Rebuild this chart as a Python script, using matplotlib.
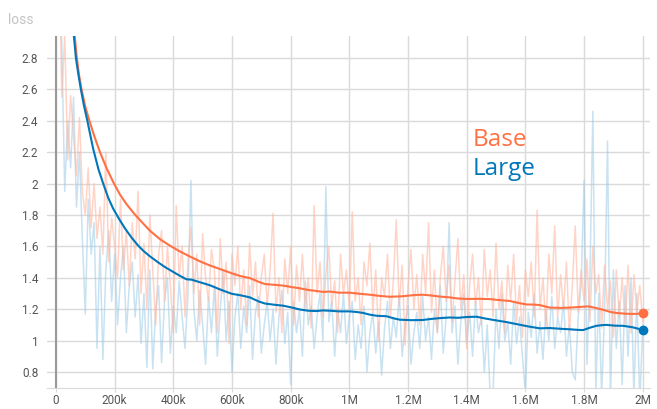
import numpy as np
import matplotlib
matplotlib.use("Agg")
import matplotlib.pyplot as plt

# training steps of the raw loss points, every 10k
raw_steps = np.arange(10, 2001, 10) * 1000

base_raw = [
    3.60, 2.55, 2.95, 2.15, 2.56, 2.30, 2.05, 2.42, 1.95, 1.80,
    2.10, 1.72, 2.00, 1.65, 1.85, 1.55, 2.20, 1.50, 1.78, 1.60,
    1.40, 1.90, 1.45, 1.70, 1.35, 1.75, 1.52, 1.95, 1.30, 1.62,
    1.20, 1.80, 1.45, 1.10, 1.55, 1.70, 1.25, 1.60, 1.35, 1.05,
    1.86, 1.40, 1.60, 1.15, 1.50, 1.72, 1.30, 1.55, 1.10, 1.68,
    1.40, 1.25, 1.58, 1.45, 1.05, 1.65, 1.30, 1.50, 0.98, 1.55,
    1.35, 1.60, 1.20, 1.45, 1.10, 1.62, 1.28, 1.50, 1.15, 1.40,
    1.55, 1.22, 1.45, 1.81, 1.18, 1.40, 1.05, 1.52, 1.30, 1.60,
    1.10, 1.48, 1.25, 1.55, 1.20, 1.40, 1.08, 1.86, 1.30, 1.50,
    1.15, 1.42, 1.60, 1.22, 1.38, 1.05, 1.55, 1.30, 1.45, 1.20,
    1.82, 1.25, 1.40, 1.10, 1.50, 1.35, 1.62, 1.18, 1.45, 1.00,
    1.40, 1.28, 1.55, 1.15, 1.38, 1.77, 1.22, 1.48, 0.97, 1.35,
    1.58, 1.20, 1.42, 1.10, 1.55, 1.30, 1.75, 1.18, 1.45, 1.05,
    1.40, 1.60, 1.25, 1.48, 1.12, 1.38, 1.65, 1.20, 1.42, 0.95,
    1.35, 1.55, 1.22, 1.40, 1.10, 1.58, 1.28, 1.45, 1.15, 1.62,
    1.20, 1.38, 1.05, 1.48, 1.25, 1.55, 1.12, 1.35, 1.02, 1.45,
    1.28, 1.50, 1.15, 1.83, 1.20, 1.40, 1.08, 1.55, 1.30, 1.73,
    1.15, 1.42, 1.20, 1.50, 1.05, 1.35, 1.73, 1.18, 1.45, 1.25,
    1.52, 1.12, 1.60, 1.30, 1.42, 1.08, 1.48, 1.20, 1.38, 1.02,
    1.45, 1.15, 1.40, 1.10, 1.48, 1.05, 1.42, 1.18, 1.35, 1.12,
]

large_raw = [
    3.50, 2.87, 1.95, 2.40, 2.10, 2.55, 1.85, 2.20, 1.65, 1.17,
    1.90, 1.55, 1.75, 0.95, 1.60, 0.88, 1.45, 1.70, 1.25, 1.55,
    1.10, 1.40, 1.60, 1.05, 1.35, 1.50, 1.15, 1.42, 0.98, 1.30,
    0.83, 1.45, 0.82, 1.20, 1.35, 0.86, 1.25, 1.40, 0.92, 1.22,
    1.05, 1.38, 1.15, 0.95, 1.30, 2.02, 1.20, 1.00, 1.32, 1.10,
    0.85, 1.28, 1.05, 1.35, 0.90, 1.20, 1.45, 1.00, 1.25, 0.80,
    1.15, 1.30, 0.95, 1.22, 1.05, 1.35, 0.88, 1.18, 1.28, 0.92,
    1.10, 1.25, 1.00, 1.20, 0.85, 1.15, 1.32, 0.98, 1.18, 0.72,
    1.25, 1.05, 1.20, 0.90, 1.38, 1.10, 1.22, 0.95, 1.15, 1.30,
    1.00, 1.98, 1.12, 1.25, 0.90, 1.20, 1.05, 1.30, 0.98, 1.15,
    1.25, 0.88, 1.10, 0.95, 1.22, 0.80, 1.05, 1.18, 0.92, 1.12,
    0.78, 1.08, 1.25, 0.95, 1.15, 1.02, 1.30, 0.90, 1.10, 1.22,
    0.85, 1.05, 1.18, 0.95, 1.28, 1.00, 1.15, 0.88, 1.20, 1.05,
    1.35, 0.92, 1.15, 1.75, 1.05, 1.22, 0.85, 1.12, 1.30, 0.98,
    1.18, 0.90, 1.25, 1.05, 1.15, 0.80, 1.10, 0.65, 0.68, 1.20,
    0.95, 1.30, 1.00, 1.12, 0.85, 1.25, 0.98, 1.15, 0.90, 0.66,
    1.18, 1.02, 1.30, 0.92, 1.12, 0.88, 1.20, 1.00, 1.28, 0.95,
    1.15, 1.05, 1.25, 0.90, 1.10, 0.80, 0.75, 1.15, 1.35, 2.02,
    0.85, 1.40, 2.46, 0.68, 1.30, 0.65, 1.20, 2.27, 0.62, 1.45,
    0.95, 1.25, 0.72, 1.35, 0.90, 1.40, 0.65, 1.30, 0.60, 1.10,
]

# smoothed curves (steps in k, loss)
base_smooth_x = [20, 40, 55, 64, 70, 78, 87, 100, 114, 131, 150, 172, 195, 218, 242,
                 268, 295, 320, 355, 388, 420, 457, 490, 525, 560, 600, 630, 661, 690,
                 712, 745, 775, 805, 831, 860, 888, 910, 934, 965, 1000, 1035, 1070,
                 1105, 1138, 1180, 1223, 1250, 1274, 1310, 1342, 1370, 1401, 1440,
                 1479, 1510, 1547, 1575, 1604, 1630, 1649, 1683, 1720, 1751, 1785,
                 1814, 1840, 1865, 1890, 1910, 1935, 1956, 1980, 2000]
base_smooth = [4.40, 3.50, 3.10, 2.94, 2.82, 2.70, 2.60, 2.49, 2.40, 2.30, 2.20, 2.10,
               2.01, 1.93, 1.865, 1.805, 1.75, 1.70, 1.645, 1.605, 1.57, 1.535, 1.505,
               1.478, 1.455, 1.428, 1.41, 1.398, 1.375, 1.36, 1.355, 1.35, 1.34,
               1.333, 1.322, 1.316, 1.31, 1.312, 1.305, 1.305, 1.298, 1.292, 1.284,
               1.279, 1.282, 1.29, 1.292, 1.288, 1.28, 1.275, 1.268, 1.265, 1.266,
               1.264, 1.258, 1.252, 1.24, 1.23, 1.229, 1.226, 1.21, 1.208, 1.21,
               1.214, 1.218, 1.208, 1.196, 1.182, 1.176, 1.172, 1.17, 1.17, 1.175]

large_smooth_x = [20, 40, 52, 61, 68, 76, 84, 95, 107, 127, 145, 161, 178, 195, 215,
                  235, 258, 280, 300, 320, 349, 370, 388, 420, 445, 462, 490, 525, 560,
                  599, 630, 661, 690, 712, 745, 775, 805, 831, 860, 888, 910, 934, 965,
                  1000, 1025, 1047, 1070, 1093, 1127, 1150, 1172, 1210, 1250, 1280,
                  1308, 1342, 1370, 1400, 1433, 1465, 1502, 1535, 1570, 1610, 1649,
                  1683, 1720, 1751, 1780, 1797, 1820, 1842, 1860, 1876, 1905, 1933,
                  1965, 2000]
large_smooth = [4.30, 3.40, 3.10, 2.94, 2.80, 2.70, 2.61, 2.50, 2.40, 2.22, 2.09, 2.00,
                1.91, 1.84, 1.775, 1.715, 1.655, 1.605, 1.568, 1.537, 1.497, 1.47,
                1.45, 1.415, 1.39, 1.388, 1.372, 1.352, 1.325, 1.298, 1.288, 1.275,
                1.25, 1.236, 1.228, 1.222, 1.21, 1.198, 1.19, 1.188, 1.192, 1.19,
                1.186, 1.186, 1.182, 1.176, 1.165, 1.158, 1.155, 1.142, 1.133, 1.13,
                1.131, 1.138, 1.143, 1.147, 1.145, 1.15, 1.152, 1.14, 1.128, 1.118,
                1.105, 1.09, 1.078, 1.08, 1.075, 1.072, 1.068, 1.067, 1.082, 1.094,
                1.098, 1.10, 1.095, 1.094, 1.085, 1.068]

x_ticks = [0, 200e3, 400e3, 600e3, 800e3, 1e6, 1.2e6, 1.4e6, 1.6e6, 1.8e6, 2e6]
x_labels = ["0", "200k", "400k", "600k", "800k", "1M", "1.2M", "1.4M", "1.6M", "1.8M", "2M"]
y_ticks = [0.8, 1, 1.2, 1.4, 1.6, 1.8, 2, 2.2, 2.4, 2.6, 2.8]
y_labels = ["0.8", "1", "1.2", "1.4", "1.6", "1.8", "2", "2.2", "2.4", "2.6", "2.8"]

ORANGE = "#ff7043"
BLUE = "#0077bb"

plt.rcParams["font.family"] = ["Roboto", "DejaVu Sans"]

fig = plt.figure(figsize=(6.57, 4.09), dpi=100)
ax = fig.add_axes([0.071, 0.0513, 0.918, 0.861])

ax.plot(raw_steps, large_raw, color="#9ccbe6", alpha=0.55, lw=1.1, zorder=2)
ax.plot(raw_steps, base_raw, color="#ffb8a3", alpha=0.6, lw=1.1, zorder=3)

bx = np.array(base_smooth_x) * 1000
lx = np.array(large_smooth_x) * 1000
ax.plot(bx, base_smooth, color=ORANGE, lw=1.5, zorder=5)
ax.plot(lx, large_smooth, color=BLUE, lw=1.5, zorder=6)
ax.plot(bx[-1], base_smooth[-1], "o", color=ORANGE, ms=6, zorder=7)
ax.plot(lx[-1], large_smooth[-1], "o", color=BLUE, ms=6, zorder=7)

ax.axvline(0, color="#999999", lw=1.5, zorder=4)

ax.set_xlim(-31.7e3, 2.024e6)
ax.set_ylim(0.698, 2.94)
ax.set_xticks(x_ticks)
ax.set_xticklabels(x_labels)
ax.set_yticks(y_ticks)
ax.set_yticklabels(y_labels)
ax.grid(True, color="#dadada", lw=1)
ax.set_axisbelow(True)
for s in ["top", "right", "left"]:
    ax.spines[s].set_visible(False)
ax.spines["bottom"].set_color("#dadada")
ax.tick_params(axis="x", length=3, color="#dadada", pad=1.5, labelsize=8.5, labelcolor="#555555")
ax.tick_params(axis="y", length=0, pad=6, labelsize=8.5, labelcolor="#555555")

ax.text(1.42e6, 2.238, "Base", color=ORANGE, fontsize=17.5, family="Open Sans", va="baseline")
ax.text(1.42e6, 2.052, "Large", color=BLUE, fontsize=17.5, family="Open Sans", va="baseline")

fig.text(8 / 657, 1 - 24 / 409, "loss", color="#c4c4c4", fontsize=10, va="baseline")

fig.savefig("out.png", dpi=100)
